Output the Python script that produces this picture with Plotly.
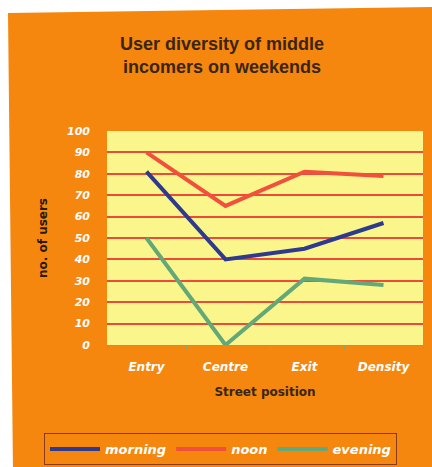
import plotly.graph_objects as go

# Street positions along the x axis
positions = ["Entry", "Centre", "Exit", "Density"]

# Number of users per time of day
morning = [81, 40, 45, 57]
noon = [90, 65, 81, 79]
evening = [50, 0, 31, 28]

y_ticks = list(range(0, 101, 10))

ORANGE = "#F5870E"
YELLOW = "#FAF68C"
GRID_RED = "#EE4A3A"

W, H = 432, 467
L, R, T, B = 107, 9, 131, 122
PW, PH = W - L - R, H - T - B


def px(x):
    return (x - L) / PW


def py(y):
    return (H - B - y) / PH


tick_font = dict(family="DejaVu Sans", size=11, color="white", weight="bold", style="italic")

fig = go.Figure()
fig.add_trace(go.Scatter(x=positions, y=morning, mode="lines", name="morning",
                         line=dict(color="#2E3A8E", width=4)))
fig.add_trace(go.Scatter(x=positions, y=noon, mode="lines", name="noon",
                         line=dict(color="#F0503C", width=4)))
fig.add_trace(go.Scatter(x=positions, y=evening, mode="lines", name="evening",
                         line=dict(color="#62A878", width=4)))

# white scanner margin along the top and left edges of the card
border = "M {} {} L {} {} L {} {} L {} {} L {} {} L {} {} Z".format(
    px(-5), py(-5), px(440), py(-5), px(440), py(7), px(8), py(13), px(13), py(472), px(-5), py(472))

fig.update_layout(
    width=W, height=H,
    margin=dict(l=L, r=R, t=T, b=B, autoexpand=False),
    paper_bgcolor=ORANGE,
    plot_bgcolor=YELLOW,
    title=dict(
        text="User diversity of middle<br>incomers on weekends",
        x=222 / W, xanchor="center",
        y=1 - 50 / H, yanchor="middle",
        font=dict(family="Liberation Sans", size=18, color="#3A2514", weight="bold"),
    ),
    shapes=[dict(type="path", path=border, xref="paper", yref="paper",
                 fillcolor="white", line=dict(width=0), layer="above")],
    xaxis=dict(
        type="category",
        range=[-0.5, 3.5],
        automargin=False,
        showgrid=False,
        showline=True, linecolor="#A09A60", linewidth=1,
        ticks="outside", ticklen=3, tickcolor="#A09A60", tickson="boundaries",
        tickfont=dict(family="DejaVu Sans", size=12, color="white", weight="bold", style="italic"),
        ticklabelstandoff=11,
        title=dict(text="Street position", standoff=14,
                   font=dict(family="DejaVu Sans", size=12, color="#3A2514", weight="bold")),
        fixedrange=True,
    ),
    yaxis=dict(
        range=[0, 100],
        automargin=False,
        tickvals=y_ticks,
        showgrid=True, gridcolor=GRID_RED, gridwidth=1.5,
        zeroline=False,
        showline=False,
        tickfont=tick_font,
        ticklabelstandoff=16,
        title=dict(text="no. of users", standoff=16,
                   font=dict(family="DejaVu Sans", size=12, color="#2A1A10", weight="bold")),
        fixedrange=True,
    ),
    showlegend=True,
    legend=dict(
        orientation="h",
        x=px(44), xanchor="left",
        y=py(433), yanchor="top",
        bgcolor="rgba(0,0,0,0)",
        bordercolor="#8A3A18", borderwidth=1,
        font=dict(family="DejaVu Sans", size=13, color="white", weight="bold", style="italic"),
        itemwidth=50,
    ),
)

fig.write_html("out.html")
